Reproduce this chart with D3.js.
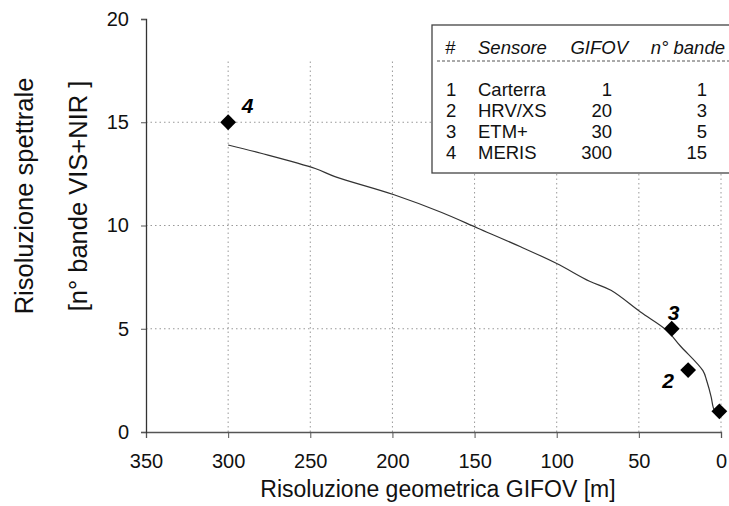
<!DOCTYPE html>
<html><head><meta charset="utf-8">
<script src="https://cdn.jsdelivr.net/npm/d3@7"></script>
<style>
html,body{margin:0;padding:0;background:#fff;}
svg{display:block;font-family:"Liberation Sans",Arial,sans-serif;}
</style></head>
<body>
<svg id="c" width="729" height="506"></svg>
<script>
const xTicks = [350,300,250,200,150,100,50,0];
const yTicks = [0,5,10,15,20];
// sensors
const sensorIds = ["1","2","3","4"];
const sensorNames = ["Carterra","HRV/XS","ETM+","MERIS"];
const sensorGifov = [1,20,30,300];
const sensorBands = [1,3,5,15];
const pointLabelsShown = ["","2","3","4"];
// fitted curve (GIFOV, bands)
const curveX = [300,280,247,235,199,170,148,122,100,80,67,49,33,25,11,8.7,6,4.7,3];
const curveY = [13.9,13.5,12.76,12.37,11.49,10.63,9.87,8.97,8.16,7.3,6.86,5.81,4.92,4.19,2.97,2.48,1.7,1.18,0.89];

const FONT = "Liberation Sans, Arial, sans-serif";
const svg = d3.select("#c");
const x = d3.scaleLinear().domain([350,0]).range([146,721]);
const y = d3.scaleLinear().domain([0,20]).range([432,19]);

// grid
const g = svg.append("g");
g.selectAll(".vg").data(xTicks.filter(d=>d!==350)).enter().append("line")
  .attr("x1",d=>x(d)).attr("x2",d=>x(d)).attr("y1",y(0)).attr("y2",y(18))
  .attr("stroke","#999").attr("stroke-width",1).attr("stroke-dasharray","1.5,3");
g.selectAll(".hg").data([5,10,15]).enter().append("line")
  .attr("x1",x(350)).attr("x2",x(0)).attr("y1",d=>y(d)).attr("y2",d=>y(d))
  .attr("stroke","#999").attr("stroke-width",1).attr("stroke-dasharray","1.5,3");

// axes
const xAxis = d3.axisBottom(x).tickValues(xTicks).tickSize(6).tickPadding(16).tickFormat(d3.format("d"));
const xg = svg.append("g").attr("transform",`translate(0,${y(0)})`).call(xAxis);
xg.select(".domain").attr("stroke","#555").attr("stroke-width",1.3);
xg.selectAll(".tick line").attr("stroke","#555");
xg.selectAll("text").attr("font-size",20).attr("fill","#111").attr("font-family",FONT);

const yAxis = d3.axisLeft(y).tickValues(yTicks).tickSize(5).tickPadding(12);
const yg = svg.append("g").attr("transform",`translate(${x(350)},0)`).call(yAxis);
yg.select(".domain").attr("stroke","#333").attr("stroke-width",1.3);
yg.selectAll(".tick line").attr("stroke","#555");
yg.selectAll("text").attr("font-size",20).attr("fill","#111").attr("font-family",FONT);

// titles
svg.append("text").attr("x",438).attr("y",497).attr("text-anchor","middle")
  .attr("font-size",23).attr("fill","#111").text("Risoluzione geometrica GIFOV [m]");
const yt = svg.append("g").attr("transform","translate(0,196) rotate(-90)");
yt.append("text").attr("x",0).attr("y",33).attr("text-anchor","middle").attr("font-size",25.5).attr("fill","#111").text("Risoluzione spettrale");
yt.append("text").attr("x",0).attr("y",87).attr("text-anchor","middle").attr("font-size",25.5).attr("fill","#111").text("[n° bande VIS+NIR ]");

// curve
const pts = curveX.map((d,i)=>[d,curveY[i]]);
svg.append("path").datum(pts)
  .attr("d",d3.line().x(d=>x(d[0])).y(d=>y(d[1])).curve(d3.curveCatmullRom))
  .attr("fill","none").attr("stroke","#333").attr("stroke-width",1.2);

// points (square rotated 45°)
const sym = d3.symbol().type(d3.symbolSquare).size(125);
svg.selectAll(".pt").data(sensorGifov).enter().append("path")
  .attr("d",sym).attr("transform",(d,i)=>`translate(${x(d)},${y(sensorBands[i])}) rotate(45)`).attr("fill","#000");
const lblOff = [[0,0],[-20,17.5],[2,-8.5],[19.5,-9.5]];
svg.selectAll(".pl").data(sensorGifov).enter().append("text")
  .attr("x",(d,i)=>x(d)+lblOff[i][0]).attr("y",(d,i)=>y(sensorBands[i])+lblOff[i][1])
  .attr("font-size",21).attr("font-weight","bold").attr("font-style","italic").attr("fill","#000")
  .attr("text-anchor","middle").text((d,i)=>pointLabelsShown[i]);

// legend table
const L = svg.append("g");
L.append("rect").attr("x",432).attr("y",25).attr("width",320).attr("height",148)
  .attr("fill","#fff").attr("stroke","#444").attr("stroke-width",1.3);
L.append("line").attr("x1",437).attr("x2",729).attr("y1",61).attr("y2",61)
  .attr("stroke","#555").attr("stroke-width",1).attr("stroke-dasharray","3,2");
const FS = 18.5;
const hdr = [["#",445,"start"],["Sensore",478,"start"],["GIFOV",628,"end"],["n° bande",725,"end"]];
hdr.forEach(h=>L.append("text").attr("x",h[1]).attr("y",54).attr("text-anchor",h[2])
  .attr("font-size",FS).attr("font-style","italic").attr("fill","#111").text(h[0]));
const rowY = [95.5,117,138,158.5];
sensorIds.forEach((id,i)=>{
  L.append("text").attr("x",446).attr("y",rowY[i]).attr("font-size",FS).attr("fill","#111").text(id);
  L.append("text").attr("x",478).attr("y",rowY[i]).attr("font-size",FS).attr("fill","#111").text(sensorNames[i]);
  L.append("text").attr("x",612).attr("y",rowY[i]).attr("text-anchor","end").attr("font-size",FS).attr("fill","#111").text(sensorGifov[i]);
  L.append("text").attr("x",707).attr("y",rowY[i]).attr("text-anchor","end").attr("font-size",FS).attr("fill","#111").text(sensorBands[i]);
});
</script>
</body></html>
